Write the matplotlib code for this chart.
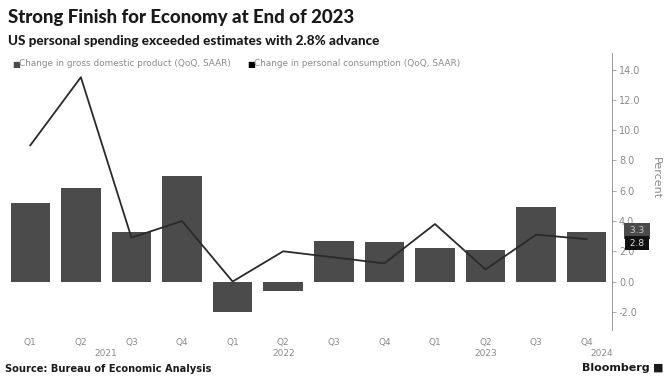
import matplotlib.pyplot as plt
import numpy as np

# Quarterly data, 2021 Q1 through 2023 Q4
quarters = ["Q1", "Q2", "Q3", "Q4"] * 3
gdp = [5.2, 6.2, 3.3, 7.0, -2.0, -0.6, 2.7, 2.6, 2.2, 2.1, 4.9, 3.3]
consumption = [9.0, 13.5, 2.9, 4.0, 0.0, 2.0, 1.6, 1.2, 3.8, 0.8, 3.1, 2.8]
years = ["2021", "2022", "2023", "2024"]
year_pos = [1.5, 5.0, 9.0, 11.3]
yticks = [-2, 0, 2, 4, 6, 8, 10, 12, 14]

bar_color = "#4b4b4b"
line_color = "#2a2a2a"
grey_text = "#8a8a8a"

fig = plt.figure(figsize=(6.64, 3.76), dpi=100)
ax = fig.add_axes([5 / 664, 1 - 330 / 376, 607 / 664, 277 / 376])

x = np.arange(len(gdp))
ax.bar(x, gdp, width=0.78, color=bar_color, zorder=2)
ax.plot(x, consumption, color=line_color, linewidth=1.3, zorder=3)

ax.set_xlim(-0.5, len(gdp) - 0.5)
ax.set_ylim(-3.2, 15.1)

# right-hand percent axis
ax.yaxis.tick_right()
ax.set_yticks(yticks)
ax.set_yticklabels([f"{v:.1f}" for v in yticks], fontsize=7, color=grey_text)
ax.tick_params(axis="y", length=3, width=0.6, color="#999999", pad=2)
for side in ["left", "top", "bottom"]:
    ax.spines[side].set_visible(False)
ax.spines["right"].set_color("#999999")
ax.spines["right"].set_linewidth(0.7)
ax.set_xticks([])

ax.text(1.072, 0.55, "Percent", transform=ax.transAxes, rotation=-90,
        fontsize=8, color=grey_text, ha="center", va="center")

# quarter and year labels
for i, q in enumerate(quarters):
    ax.text(i, -4.0, q, fontsize=6.5, color=grey_text, ha="center", va="center",
            clip_on=False)
for yr, pos in zip(years, year_pos):
    ax.text(pos, -4.75, yr, fontsize=6.5, color=grey_text, ha="center", va="center",
            clip_on=False)

# latest values next to the axis
ax.annotate(f" {gdp[-1]:.1f} ", xy=(1.0, gdp[-1]), xycoords=("axes fraction", "data"),
            xytext=(18, 0.5), textcoords="offset points", fontsize=6.5, color="#cccccc",
            ha="center", va="center",
            bbox=dict(boxstyle="square,pad=0.35", fc=bar_color, ec="none"))
ax.annotate(f" {consumption[-1]:.1f} ", xy=(1.0, consumption[-1]), xycoords=("axes fraction", "data"),
            xytext=(18, -2.8), textcoords="offset points", fontsize=6.5, color="#dddddd",
            ha="center", va="center",
            bbox=dict(boxstyle="square,pad=0.25", fc="#111111", ec="none"))

# titles
fig.text(8 / 664, 1 - 18 / 376, "Strong Finish for Economy at End of 2023",
         fontsize=13.4, fontweight="black", family="Lato", color="#1a1a1a", va="center")
fig.text(8 / 664, 1 - 41 / 376, "US personal spending exceeded estimates with 2.8% advance",
         fontsize=9.7, fontweight="black", family="Lato", color="#1a1a1a", va="center")

# legend
fig.text(12 / 664, 1 - 64 / 376, "\u25a0", fontsize=6, color=bar_color, va="center")
fig.text(19 / 664, 1 - 64 / 376, "Change in gross domestic product (QoQ, SAAR)",
         fontsize=6.4, color=grey_text, va="center")
fig.text(247 / 664, 1 - 64 / 376, "\u25a0", fontsize=6, color="#000000", va="center")
fig.text(254 / 664, 1 - 64 / 376, "Change in personal consumption (QoQ, SAAR)",
         fontsize=6.4, color=grey_text, va="center")

# footer
fig.text(5 / 664, 1 - 369 / 376, "Source: Bureau of Economic Analysis",
         fontsize=7.1, fontweight="bold", color="#1a1a1a", va="center")
fig.text(650 / 664, 1 - 368 / 376, "Bloomberg", fontsize=8, fontweight="bold",
         color="#1a1a1a", va="center", ha="right")
fig.text(653 / 664, 1 - 368 / 376, "\u25a0", fontsize=8, color="#1a1a1a", va="center")

fig.savefig("out.png", dpi=100, facecolor="white")
